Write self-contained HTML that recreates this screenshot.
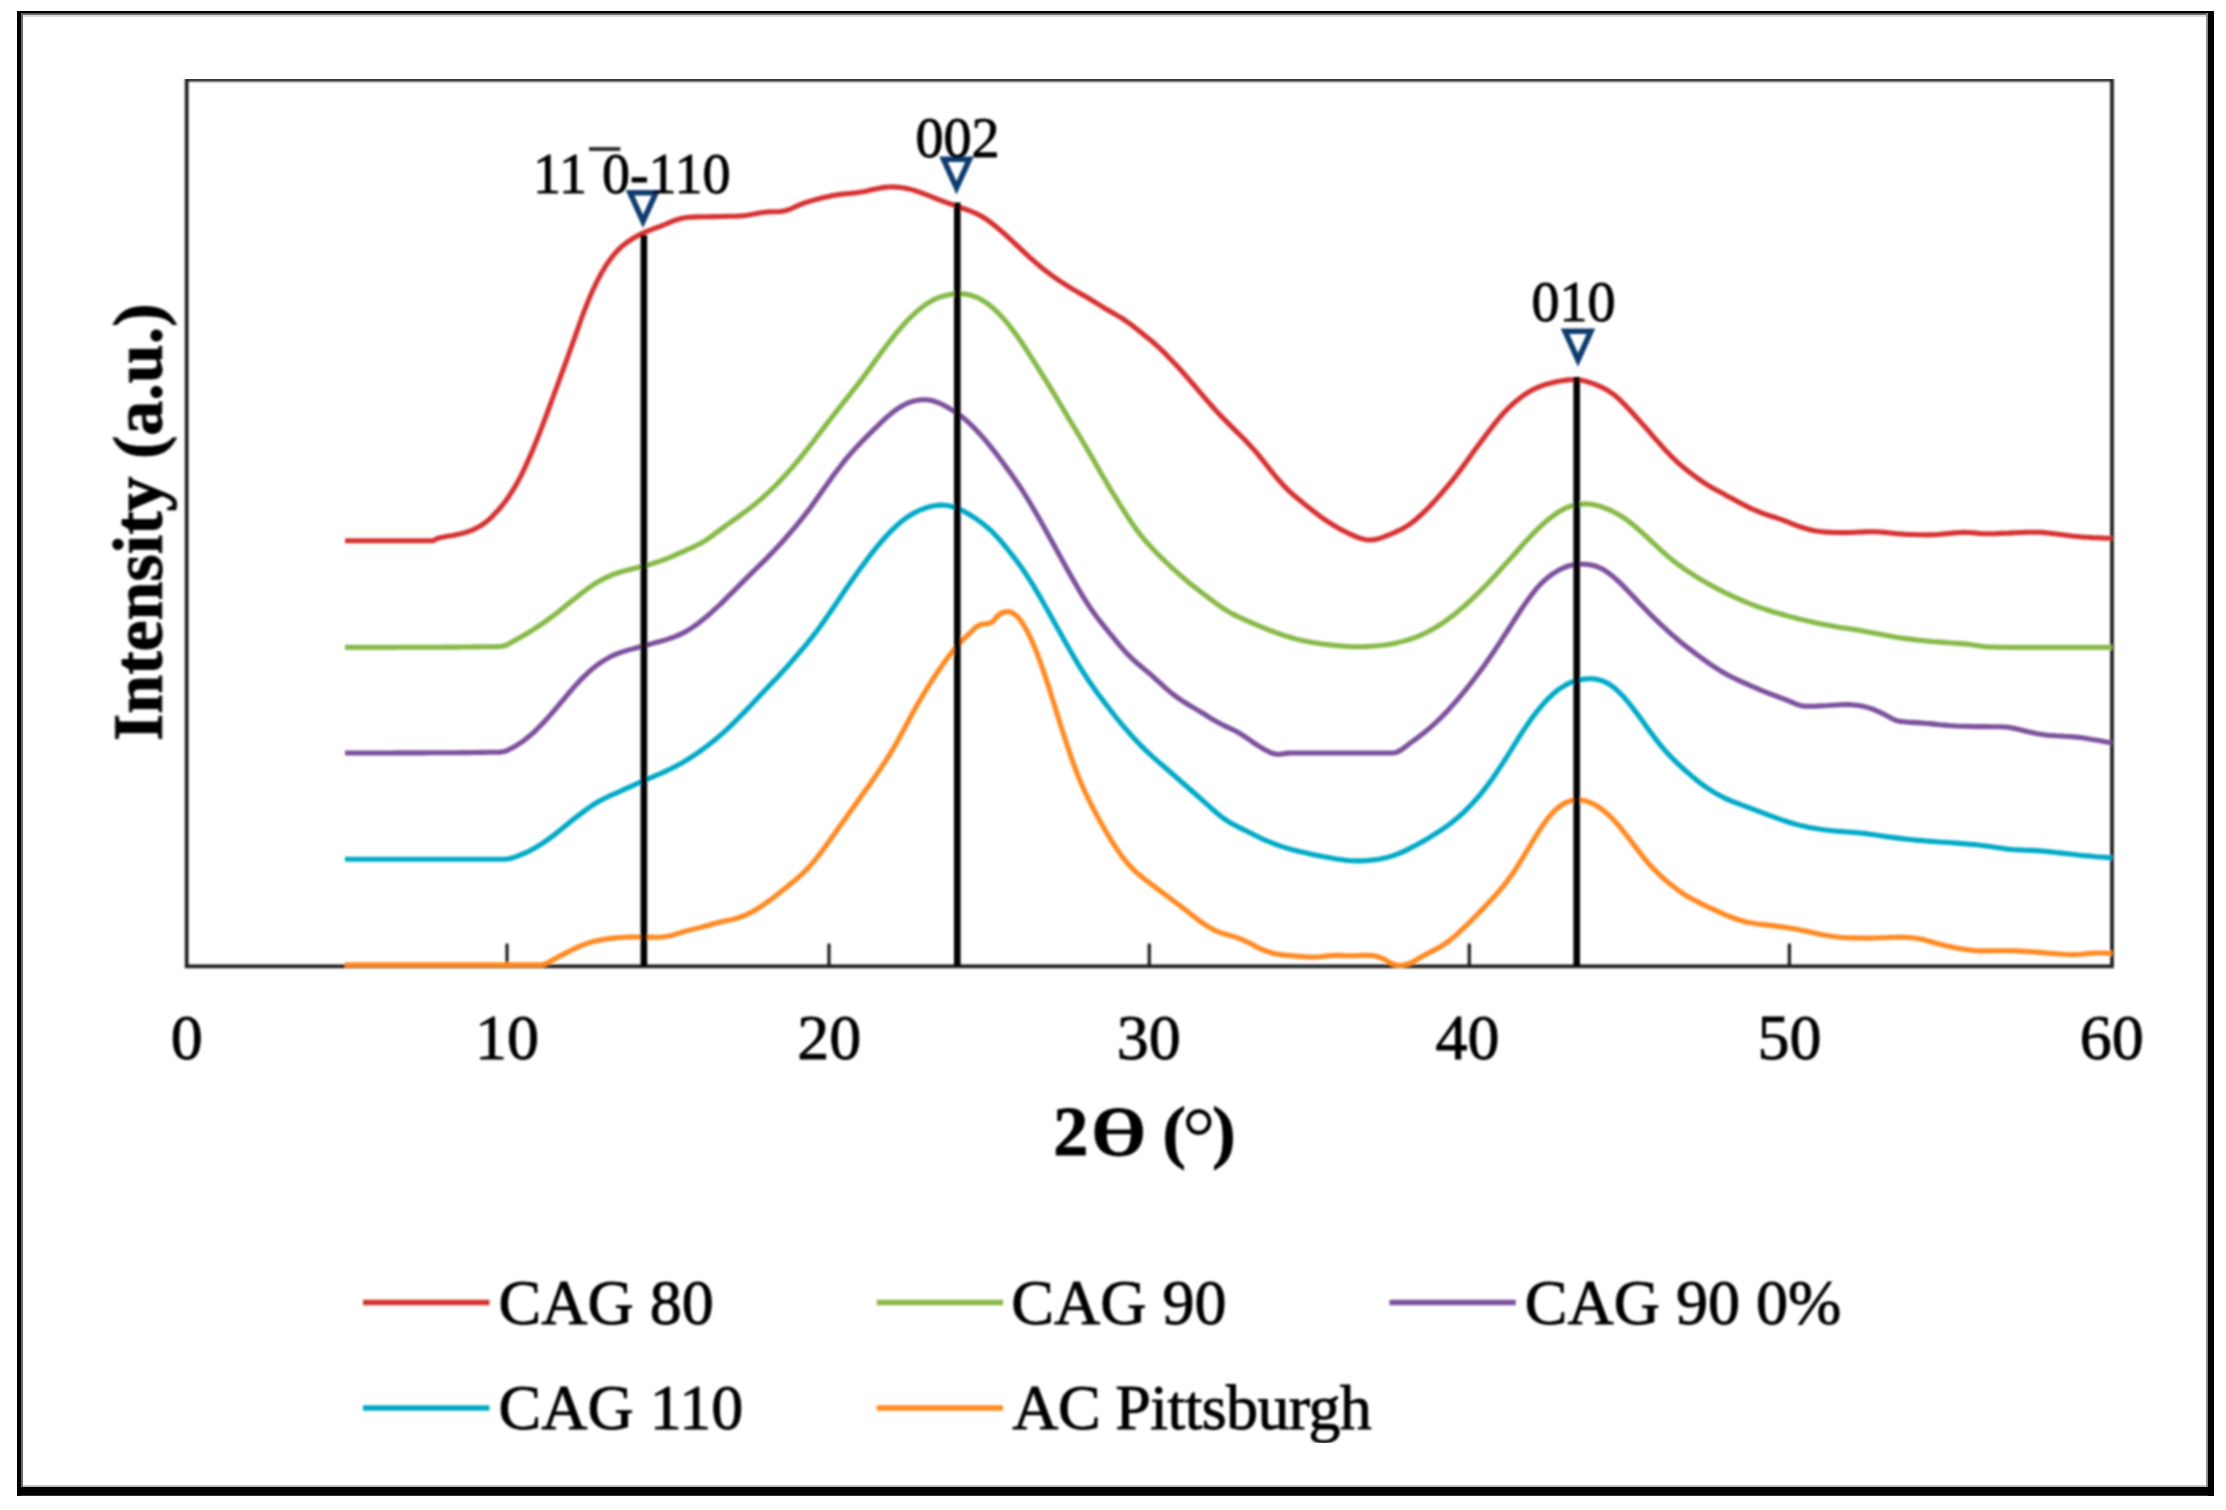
<!DOCTYPE html>
<html lang="en"><head><meta charset="utf-8"><title>XRD patterns</title>
<style>
html,body{margin:0;padding:0;background:#fff}
body{width:2226px;height:1510px;overflow:hidden}
svg{display:block}
text{font-family:"Liberation Serif","DejaVu Serif",serif;fill:#000}
.tk{font-size:64px;text-anchor:middle}
.pk{font-size:56px}
.lg{font-size:64px}
.ti{font-size:70px;font-weight:bold}
text{stroke:#000;stroke-width:0.9px}
</style></head><body>
<svg width="2226" height="1510" viewBox="0 0 2226 1510">
<rect width="2226" height="1510" fill="#fff"/>
<g id="frame">
<rect x="17" y="11" width="2197" height="2.3" fill="#000"/>
<rect x="21" y="13.3" width="2187" height="1.5" fill="#2c2c2c"/>
<rect x="23" y="14.8" width="2183" height="2.2" fill="#dcdcdc"/>
<rect x="17" y="1487" width="2197" height="8.8" fill="#000"/>
<rect x="23" y="1485.2" width="2183" height="1.8" fill="#b8b8b8"/>
<rect x="17" y="11" width="4" height="1484.8" fill="#000"/>
<rect x="21" y="13.3" width="2" height="1473.7" fill="#6b6b6b"/>
<rect x="2208" y="11" width="6" height="1484.8" fill="#000"/>
<rect x="2206.1" y="13.3" width="1.9" height="1473.7" fill="#8a8a8a"/>
</g>
<g id="all" filter="url(#soft)">

<g id="plot">
<rect x="186.7" y="79.7" width="1925.3" height="886.6" fill="none" stroke="#1c1c1c" stroke-width="3.7"/>
<line x1="507.0" y1="943.6" x2="507.0" y2="966" stroke="#1c1c1c" stroke-width="3.2"/>
<line x1="829.0" y1="943.6" x2="829.0" y2="966" stroke="#1c1c1c" stroke-width="3.2"/>
<line x1="1149.3" y1="943.6" x2="1149.3" y2="966" stroke="#1c1c1c" stroke-width="3.2"/>
<line x1="1469.3" y1="943.6" x2="1469.3" y2="966" stroke="#1c1c1c" stroke-width="3.2"/>
<line x1="1789.4" y1="943.6" x2="1789.4" y2="966" stroke="#1c1c1c" stroke-width="3.2"/>
<path d="M345.0 540.7L349.0 540.7L353.0 540.7L357.0 540.7L361.0 540.7L365.0 540.8L369.0 540.8L373.0 540.8L377.0 540.8L381.0 540.8L385.0 540.8L389.0 540.8L393.0 540.8L397.0 540.8L401.0 540.8L405.0 540.8L409.0 540.8L413.0 540.8L417.0 540.8L421.0 540.8L425.0 540.8L429.0 540.8L433.0 540.7L436.9 538.7L440.9 537.4L444.9 536.7L448.9 536.1L452.9 535.4L456.9 534.6L460.9 533.7L464.9 532.6L468.9 531.3L472.9 529.8L476.9 527.9L480.9 525.6L484.9 522.9L488.9 519.6L492.9 515.8L496.9 511.6L500.9 507.0L504.9 502.0L508.9 496.4L512.9 490.2L516.9 483.4L520.9 475.9L524.9 467.6L528.9 458.7L532.9 449.4L536.9 439.7L540.9 429.6L544.9 419.2L548.9 408.5L552.9 397.5L556.9 386.6L560.9 375.7L564.9 364.9L568.9 353.9L572.9 342.7L576.9 331.3L580.9 320.0L584.9 309.2L588.9 299.2L592.9 290.0L596.9 281.6L600.9 274.0L604.9 267.2L608.9 261.2L612.8 255.9L616.8 251.3L620.8 247.4L624.8 244.0L628.8 241.1L632.8 238.5L636.8 236.2L640.8 234.1L644.8 232.2L648.8 230.6L652.8 229.0L656.8 227.6L660.8 226.1L664.8 224.5L668.8 222.8L672.8 221.2L676.8 219.7L680.8 218.5L684.8 217.8L688.8 217.3L692.8 217.1L696.8 216.9L700.8 216.8L704.8 216.8L708.8 216.7L712.8 216.6L716.8 216.6L720.8 216.5L724.8 216.4L728.8 216.3L732.8 216.2L736.8 216.1L740.8 215.9L744.8 215.6L748.8 215.0L752.8 214.3L756.8 213.5L760.8 212.7L764.8 212.2L768.8 211.9L772.8 211.8L776.8 211.8L780.8 211.5L784.8 210.8L788.7 209.6L792.7 208.0L796.7 206.1L800.7 204.4L804.7 202.9L808.7 201.6L812.7 200.4L816.7 199.3L820.7 198.3L824.7 197.3L828.7 196.4L832.7 195.6L836.7 194.9L840.7 194.4L844.7 193.9L848.7 193.5L852.7 193.1L856.7 192.7L860.7 192.1L864.7 191.4L868.7 190.5L872.7 189.6L876.7 188.7L880.7 187.9L884.7 187.4L888.7 187.0L892.7 186.9L896.7 187.1L900.7 187.5L904.7 188.1L908.7 188.9L912.7 189.9L916.7 191.2L920.7 192.6L924.7 194.1L928.7 195.6L932.7 197.2L936.7 198.8L940.7 200.4L944.7 201.9L948.7 203.3L952.7 204.7L956.7 206.2L960.7 207.6L964.6 209.0L968.6 210.4L972.6 212.0L976.6 213.7L980.6 215.8L984.6 218.2L988.6 220.9L992.6 223.9L996.6 227.1L1000.6 230.5L1004.6 234.0L1008.6 237.6L1012.6 241.3L1016.6 245.1L1020.6 248.9L1024.6 252.6L1028.6 256.3L1032.6 259.9L1036.6 263.4L1040.6 266.7L1044.6 269.9L1048.6 273.0L1052.6 276.0L1056.6 278.8L1060.6 281.5L1064.6 284.2L1068.6 286.7L1072.6 289.1L1076.6 291.4L1080.6 293.7L1084.6 295.9L1088.6 298.3L1092.6 300.7L1096.6 303.2L1100.6 305.7L1104.6 308.2L1108.6 310.5L1112.6 312.8L1116.6 315.1L1120.6 317.4L1124.6 320.0L1128.6 322.8L1132.6 325.8L1136.6 328.9L1140.5 332.0L1144.5 335.2L1148.5 338.4L1152.5 341.8L1156.5 345.3L1160.5 349.0L1164.5 352.9L1168.5 357.0L1172.5 361.2L1176.5 365.4L1180.5 369.8L1184.5 374.2L1188.5 378.8L1192.5 383.5L1196.5 388.2L1200.5 392.9L1204.5 397.6L1208.5 402.2L1212.5 406.7L1216.5 411.1L1220.5 415.4L1224.5 419.5L1228.5 423.6L1232.5 427.6L1236.5 431.6L1240.5 435.5L1244.5 439.5L1248.5 443.7L1252.5 448.1L1256.5 452.7L1260.5 457.5L1264.5 462.5L1268.5 467.6L1272.5 472.6L1276.5 477.5L1280.5 482.1L1284.5 486.4L1288.5 490.4L1292.5 494.1L1296.5 497.5L1300.5 500.8L1304.5 504.1L1308.5 507.3L1312.5 510.4L1316.5 513.5L1320.4 516.5L1324.4 519.3L1328.4 522.0L1332.4 524.5L1336.4 526.9L1340.4 529.2L1344.4 531.3L1348.4 533.3L1352.4 535.1L1356.4 536.8L1360.4 538.3L1364.4 539.4L1368.4 540.0L1372.4 539.9L1376.4 539.2L1380.4 538.1L1384.4 536.7L1388.4 535.1L1392.4 533.5L1396.4 531.7L1400.4 529.8L1404.4 527.7L1408.4 525.2L1412.4 522.3L1416.4 519.0L1420.4 515.5L1424.4 511.7L1428.4 507.7L1432.4 503.5L1436.4 499.1L1440.4 494.6L1444.4 489.9L1448.4 485.2L1452.4 480.3L1456.4 475.2L1460.4 469.9L1464.4 464.4L1468.4 458.9L1472.4 453.3L1476.4 447.8L1480.4 442.4L1484.4 437.1L1488.4 431.8L1492.4 426.6L1496.3 421.6L1500.3 416.8L1504.3 412.3L1508.3 408.2L1512.3 404.4L1516.3 401.0L1520.3 397.8L1524.3 394.9L1528.3 392.2L1532.3 390.0L1536.3 388.0L1540.3 386.3L1544.3 384.9L1548.3 383.7L1552.3 382.7L1556.3 381.8L1560.3 381.0L1564.3 380.4L1568.3 379.9L1572.3 379.7L1576.3 379.7L1580.3 380.1L1584.3 380.9L1588.3 382.0L1592.3 383.4L1596.3 384.9L1600.3 386.6L1604.3 388.5L1608.3 390.8L1612.3 393.5L1616.3 396.6L1620.3 400.2L1624.3 404.2L1628.3 408.4L1632.3 412.7L1636.3 417.2L1640.3 421.6L1644.3 426.1L1648.3 430.7L1652.3 435.3L1656.3 439.9L1660.3 444.4L1664.3 448.9L1668.3 453.1L1672.2 457.2L1676.2 461.0L1680.2 464.6L1684.2 468.0L1688.2 471.2L1692.2 474.3L1696.2 477.3L1700.2 480.1L1704.2 482.8L1708.2 485.3L1712.2 487.7L1716.2 489.9L1720.2 492.1L1724.2 494.3L1728.2 496.4L1732.2 498.6L1736.2 500.8L1740.2 503.0L1744.2 505.1L1748.2 507.1L1752.2 509.0L1756.2 510.7L1760.2 512.4L1764.2 513.9L1768.2 515.2L1772.2 516.5L1776.2 517.8L1780.2 519.2L1784.2 520.7L1788.2 522.2L1792.2 523.8L1796.2 525.3L1800.2 526.8L1804.2 528.0L1808.2 529.2L1812.2 530.2L1816.2 531.0L1820.2 531.5L1824.2 531.9L1828.2 532.2L1832.2 532.4L1836.2 532.5L1840.2 532.6L1844.2 532.6L1848.1 532.6L1852.1 532.5L1856.1 532.3L1860.1 532.1L1864.1 531.9L1868.1 531.8L1872.1 531.7L1876.1 531.8L1880.1 532.0L1884.1 532.4L1888.1 532.8L1892.1 533.2L1896.1 533.6L1900.1 533.9L1904.1 534.2L1908.1 534.4L1912.1 534.5L1916.1 534.7L1920.1 534.8L1924.1 534.9L1928.1 534.9L1932.1 534.8L1936.1 534.6L1940.1 534.3L1944.1 533.9L1948.1 533.5L1952.1 533.1L1956.1 532.7L1960.1 532.5L1964.1 532.4L1968.1 532.5L1972.1 532.8L1976.1 533.1L1980.1 533.5L1984.1 533.7L1988.1 533.8L1992.1 533.7L1996.1 533.6L2000.1 533.4L2004.1 533.2L2008.1 533.1L2012.1 532.9L2016.1 532.7L2020.1 532.5L2024.0 532.4L2028.0 532.2L2032.0 532.2L2036.0 532.2L2040.0 532.3L2044.0 532.6L2048.0 533.0L2052.0 533.5L2056.0 534.0L2060.0 534.5L2064.0 535.0L2068.0 535.5L2072.0 536.0L2076.0 536.4L2080.0 536.8L2084.0 537.1L2088.0 537.3L2092.0 537.6L2096.0 537.8L2100.0 537.9L2104.0 538.1L2108.0 538.2L2112.0 538.2" fill="none" stroke="#d63232" stroke-width="5.1" stroke-linejoin="round" stroke-linecap="butt"/>
<path d="M345.0 647.4L349.0 647.4L353.0 647.4L357.0 647.4L361.0 647.4L365.0 647.4L369.0 647.4L373.0 647.4L377.0 647.4L381.0 647.4L385.0 647.4L389.0 647.4L393.0 647.4L397.0 647.3L401.0 647.3L405.0 647.3L409.0 647.3L413.0 647.3L417.0 647.3L421.0 647.3L425.0 647.3L429.0 647.2L433.0 647.2L436.9 647.2L440.9 647.2L444.9 647.1L448.9 647.1L452.9 647.1L456.9 647.1L460.9 647.0L464.9 647.0L468.9 647.0L472.9 646.9L476.9 646.9L480.9 646.8L484.9 646.8L488.9 646.7L492.9 646.7L496.9 646.6L500.9 646.5L504.9 645.6L508.9 643.8L512.9 641.5L516.9 639.2L520.9 637.0L524.9 634.7L528.9 632.3L532.9 629.8L536.9 627.2L540.9 624.6L544.9 621.8L548.9 618.9L552.9 616.0L556.9 612.9L560.9 609.8L564.9 606.6L568.9 603.3L572.9 600.1L576.9 596.9L580.9 593.7L584.9 590.7L588.9 587.8L592.9 585.0L596.9 582.5L600.9 580.2L604.9 578.1L608.9 576.3L612.8 574.7L616.8 573.2L620.8 571.9L624.8 570.8L628.8 569.7L632.8 568.7L636.8 567.8L640.8 566.8L644.8 565.8L648.8 564.7L652.8 563.5L656.8 562.2L660.8 560.8L664.8 559.3L668.8 557.8L672.8 556.1L676.8 554.4L680.8 552.6L684.8 550.8L688.8 549.0L692.8 547.2L696.8 545.2L700.8 543.2L704.8 540.9L708.8 538.3L712.8 535.4L716.8 532.4L720.8 529.4L724.8 526.4L728.8 523.5L732.8 520.6L736.8 517.8L740.8 514.9L744.8 512.0L748.8 509.0L752.8 505.9L756.8 502.6L760.8 499.3L764.8 495.7L768.8 492.0L772.8 488.2L776.8 484.2L780.8 480.1L784.8 475.8L788.7 471.4L792.7 466.8L796.7 462.1L800.7 457.3L804.7 452.4L808.7 447.3L812.7 442.2L816.7 437.0L820.7 431.8L824.7 426.6L828.7 421.4L832.7 416.2L836.7 411.1L840.7 406.0L844.7 400.9L848.7 395.9L852.7 390.8L856.7 385.7L860.7 380.6L864.7 375.3L868.7 369.8L872.7 364.3L876.7 358.8L880.7 353.3L884.7 347.9L888.7 342.7L892.7 337.6L896.7 332.7L900.7 328.0L904.7 323.5L908.7 319.3L912.7 315.3L916.7 311.6L920.7 308.2L924.7 305.2L928.7 302.6L932.7 300.3L936.7 298.4L940.7 296.9L944.7 295.7L948.7 294.7L952.7 294.1L956.7 293.8L960.7 293.8L964.6 294.1L968.6 294.7L972.6 295.8L976.6 297.3L980.6 299.2L984.6 301.6L988.6 304.4L992.6 307.7L996.6 311.3L1000.6 315.4L1004.6 319.9L1008.6 324.7L1012.6 329.9L1016.6 335.3L1020.6 341.0L1024.6 347.0L1028.6 353.1L1032.6 359.3L1036.6 365.6L1040.6 371.9L1044.6 378.4L1048.6 384.8L1052.6 391.4L1056.6 398.0L1060.6 404.7L1064.6 411.4L1068.6 418.2L1072.6 424.8L1076.6 431.4L1080.6 438.0L1084.6 444.7L1088.6 451.5L1092.6 458.4L1096.6 465.4L1100.6 472.4L1104.6 479.3L1108.6 486.1L1112.6 492.7L1116.6 499.2L1120.6 505.6L1124.6 511.9L1128.6 518.1L1132.6 524.1L1136.6 529.7L1140.5 534.9L1144.5 539.7L1148.5 544.2L1152.5 548.6L1156.5 552.7L1160.5 556.8L1164.5 560.7L1168.5 564.5L1172.5 568.3L1176.5 571.9L1180.5 575.4L1184.5 578.8L1188.5 582.2L1192.5 585.4L1196.5 588.6L1200.5 591.7L1204.5 594.8L1208.5 597.8L1212.5 600.8L1216.5 603.7L1220.5 606.5L1224.5 609.1L1228.5 611.6L1232.5 613.9L1236.5 615.9L1240.5 617.8L1244.5 619.7L1248.5 621.4L1252.5 623.1L1256.5 624.8L1260.5 626.5L1264.5 628.1L1268.5 629.8L1272.5 631.3L1276.5 632.8L1280.5 634.2L1284.5 635.6L1288.5 636.8L1292.5 638.0L1296.5 639.1L1300.5 640.1L1304.5 641.0L1308.5 641.8L1312.5 642.5L1316.5 643.1L1320.4 643.7L1324.4 644.2L1328.4 644.6L1332.4 645.1L1336.4 645.5L1340.4 645.9L1344.4 646.2L1348.4 646.5L1352.4 646.7L1356.4 646.7L1360.4 646.7L1364.4 646.6L1368.4 646.4L1372.4 646.2L1376.4 645.8L1380.4 645.5L1384.4 645.0L1388.4 644.4L1392.4 643.7L1396.4 642.9L1400.4 641.9L1404.4 640.9L1408.4 639.7L1412.4 638.4L1416.4 637.0L1420.4 635.3L1424.4 633.5L1428.4 631.5L1432.4 629.3L1436.4 627.0L1440.4 624.5L1444.4 621.8L1448.4 618.9L1452.4 615.9L1456.4 612.7L1460.4 609.4L1464.4 606.0L1468.4 602.4L1472.4 598.7L1476.4 594.8L1480.4 590.9L1484.4 586.9L1488.4 582.7L1492.4 578.5L1496.3 574.2L1500.3 569.8L1504.3 565.4L1508.3 560.9L1512.3 556.5L1516.3 552.0L1520.3 547.5L1524.3 543.0L1528.3 538.7L1532.3 534.4L1536.3 530.4L1540.3 526.5L1544.3 522.9L1548.3 519.5L1552.3 516.4L1556.3 513.5L1560.3 510.9L1564.3 508.7L1568.3 507.0L1572.3 505.7L1576.3 504.7L1580.3 504.2L1584.3 503.9L1588.3 504.0L1592.3 504.5L1596.3 505.3L1600.3 506.4L1604.3 507.8L1608.3 509.4L1612.3 511.2L1616.3 513.3L1620.3 515.6L1624.3 518.2L1628.3 521.0L1632.3 524.2L1636.3 527.5L1640.3 531.1L1644.3 534.7L1648.3 538.4L1652.3 542.2L1656.3 545.9L1660.3 549.6L1664.3 553.2L1668.3 556.6L1672.2 559.9L1676.2 563.0L1680.2 565.9L1684.2 568.8L1688.2 571.5L1692.2 574.1L1696.2 576.6L1700.2 579.1L1704.2 581.4L1708.2 583.7L1712.2 585.9L1716.2 588.1L1720.2 590.1L1724.2 592.2L1728.2 594.1L1732.2 596.0L1736.2 597.9L1740.2 599.7L1744.2 601.4L1748.2 603.0L1752.2 604.6L1756.2 606.1L1760.2 607.6L1764.2 608.9L1768.2 610.2L1772.2 611.5L1776.2 612.7L1780.2 613.8L1784.2 615.0L1788.2 616.1L1792.2 617.1L1796.2 618.2L1800.2 619.2L1804.2 620.1L1808.2 621.1L1812.2 622.0L1816.2 622.9L1820.2 623.7L1824.2 624.5L1828.2 625.3L1832.2 626.0L1836.2 626.7L1840.2 627.4L1844.2 628.0L1848.1 628.6L1852.1 629.2L1856.1 629.8L1860.1 630.5L1864.1 631.2L1868.1 631.9L1872.1 632.7L1876.1 633.5L1880.1 634.3L1884.1 635.1L1888.1 635.8L1892.1 636.5L1896.1 637.2L1900.1 637.8L1904.1 638.4L1908.1 638.9L1912.1 639.4L1916.1 639.9L1920.1 640.3L1924.1 640.7L1928.1 641.1L1932.1 641.5L1936.1 641.8L1940.1 642.1L1944.1 642.4L1948.1 642.7L1952.1 643.0L1956.1 643.3L1960.1 643.6L1964.1 643.9L1968.1 644.3L1972.1 644.8L1976.1 645.4L1980.1 646.1L1984.1 646.7L1988.1 646.9L1992.1 647.0L1996.1 647.1L2000.1 647.2L2004.1 647.3L2008.1 647.3L2012.1 647.4L2016.1 647.4L2020.1 647.4L2024.0 647.4L2028.0 647.4L2032.0 647.4L2036.0 647.4L2040.0 647.4L2044.0 647.4L2048.0 647.4L2052.0 647.4L2056.0 647.4L2060.0 647.4L2064.0 647.4L2068.0 647.4L2072.0 647.4L2076.0 647.4L2080.0 647.4L2084.0 647.4L2088.0 647.4L2092.0 647.4L2096.0 647.4L2100.0 647.4L2104.0 647.4L2108.0 647.4L2112.0 647.4" fill="none" stroke="#87b948" stroke-width="5.1" stroke-linejoin="round" stroke-linecap="butt"/>
<path d="M345.0 753.0L349.0 753.0L353.0 753.0L357.0 753.0L361.0 753.0L365.0 753.0L369.0 753.0L373.0 753.0L377.0 753.0L381.0 753.0L385.0 753.0L389.0 753.0L393.0 753.0L397.0 752.9L401.0 752.9L405.0 752.9L409.0 752.9L413.0 752.9L417.0 752.9L421.0 752.9L425.0 752.9L429.0 752.8L433.0 752.8L436.9 752.8L440.9 752.8L444.9 752.7L448.9 752.7L452.9 752.7L456.9 752.7L460.9 752.6L464.9 752.6L468.9 752.6L472.9 752.5L476.9 752.5L480.9 752.4L484.9 752.4L488.9 752.3L492.9 752.3L496.9 752.2L500.9 752.1L504.9 751.3L508.9 749.6L512.9 747.5L516.9 745.2L520.9 742.7L524.9 739.8L528.9 736.5L532.9 733.1L536.9 729.3L540.9 725.3L544.9 721.0L548.9 716.6L552.9 712.0L556.9 707.3L560.9 702.5L564.9 697.8L568.9 693.0L572.9 688.4L576.9 683.9L580.9 679.6L584.9 675.6L588.9 671.8L592.9 668.4L596.9 665.3L600.9 662.4L604.9 659.9L608.9 657.6L612.8 655.6L616.8 653.8L620.8 652.4L624.8 651.1L628.8 649.9L632.8 648.9L636.8 647.8L640.8 646.8L644.8 645.6L648.8 644.5L652.8 643.4L656.8 642.3L660.8 641.3L664.8 640.1L668.8 638.9L672.8 637.5L676.8 635.9L680.8 634.1L684.8 632.1L688.8 629.8L692.8 627.2L696.8 624.4L700.8 621.3L704.8 618.1L708.8 614.7L712.8 611.2L716.8 607.5L720.8 603.8L724.8 599.9L728.8 595.9L732.8 591.9L736.8 587.9L740.8 583.9L744.8 579.9L748.8 575.9L752.8 571.9L756.8 568.0L760.8 564.1L764.8 560.2L768.8 556.1L772.8 552.0L776.8 547.8L780.8 543.5L784.8 539.0L788.7 534.5L792.7 529.8L796.7 525.1L800.7 520.2L804.7 515.1L808.7 509.9L812.7 504.4L816.7 498.8L820.7 493.2L824.7 487.5L828.7 481.9L832.7 476.3L836.7 470.9L840.7 465.7L844.7 460.7L848.7 455.9L852.7 451.3L856.7 446.9L860.7 442.7L864.7 438.6L868.7 434.6L872.7 430.7L876.7 426.8L880.7 422.9L884.7 419.2L888.7 415.6L892.7 412.3L896.7 409.4L900.7 406.7L904.7 404.5L908.7 402.7L912.7 401.3L916.7 400.4L920.7 399.8L924.7 399.7L928.7 400.0L932.7 400.8L936.7 402.1L940.7 403.7L944.7 405.7L948.7 408.0L952.7 410.4L956.7 413.0L960.7 415.8L964.6 419.0L968.6 422.5L972.6 426.3L976.6 430.5L980.6 434.8L984.6 439.4L988.6 444.2L992.6 449.2L996.6 454.3L1000.6 459.5L1004.6 464.9L1008.6 470.4L1012.6 476.0L1016.6 481.8L1020.6 487.7L1024.6 494.0L1028.6 500.5L1032.6 507.2L1036.6 514.1L1040.6 521.1L1044.6 528.3L1048.6 535.5L1052.6 542.8L1056.6 550.1L1060.6 557.3L1064.6 564.5L1068.6 571.7L1072.6 578.8L1076.6 585.8L1080.6 592.6L1084.6 599.1L1088.6 605.4L1092.6 611.2L1096.6 616.7L1100.6 621.9L1104.6 626.9L1108.6 631.8L1112.6 636.7L1116.6 641.6L1120.6 646.4L1124.6 650.9L1128.6 655.2L1132.6 659.1L1136.6 662.7L1140.5 666.0L1144.5 669.4L1148.5 672.7L1152.5 676.2L1156.5 679.8L1160.5 683.4L1164.5 687.1L1168.5 690.6L1172.5 693.9L1176.5 696.9L1180.5 699.7L1184.5 702.3L1188.5 704.7L1192.5 707.1L1196.5 709.4L1200.5 711.9L1204.5 714.3L1208.5 716.8L1212.5 719.3L1216.5 721.6L1220.5 723.8L1224.5 725.8L1228.5 727.6L1232.5 729.5L1236.5 731.5L1240.5 733.8L1244.5 736.4L1248.5 739.2L1252.5 742.0L1256.5 744.6L1260.5 747.1L1264.5 749.5L1268.5 751.6L1272.5 753.3L1276.5 754.2L1280.5 754.2L1284.5 753.6L1288.5 753.1L1292.5 753.0L1296.5 753.0L1300.5 753.0L1304.5 753.0L1308.5 753.0L1312.5 753.0L1316.5 753.0L1320.4 753.0L1324.4 753.0L1328.4 753.0L1332.4 753.0L1336.4 753.0L1340.4 753.0L1344.4 753.0L1348.4 753.0L1352.4 753.0L1356.4 753.0L1360.4 753.0L1364.4 753.0L1368.4 753.0L1372.4 753.0L1376.4 753.0L1380.4 753.0L1384.4 753.0L1388.4 753.0L1392.4 753.0L1396.4 752.4L1400.4 750.4L1404.4 747.6L1408.4 744.4L1412.4 741.5L1416.4 738.7L1420.4 735.6L1424.4 732.5L1428.4 729.1L1432.4 725.7L1436.4 722.0L1440.4 718.2L1444.4 714.1L1448.4 709.9L1452.4 705.4L1456.4 700.8L1460.4 696.1L1464.4 691.3L1468.4 686.3L1472.4 681.2L1476.4 676.0L1480.4 670.7L1484.4 665.2L1488.4 659.6L1492.4 653.8L1496.3 647.9L1500.3 641.9L1504.3 635.7L1508.3 629.5L1512.3 623.2L1516.3 617.0L1520.3 610.8L1524.3 604.9L1528.3 599.2L1532.3 593.8L1536.3 588.9L1540.3 584.4L1544.3 580.5L1548.3 577.1L1552.3 574.1L1556.3 571.6L1560.3 569.3L1564.3 567.5L1568.3 566.0L1572.3 565.0L1576.3 564.4L1580.3 564.1L1584.3 564.2L1588.3 564.5L1592.3 565.2L1596.3 566.3L1600.3 568.0L1604.3 570.1L1608.3 572.8L1612.3 575.9L1616.3 579.4L1620.3 583.1L1624.3 587.1L1628.3 591.2L1632.3 595.4L1636.3 599.7L1640.3 603.9L1644.3 608.1L1648.3 612.2L1652.3 616.2L1656.3 620.2L1660.3 624.0L1664.3 627.7L1668.3 631.4L1672.2 634.9L1676.2 638.3L1680.2 641.7L1684.2 644.9L1688.2 648.0L1692.2 651.1L1696.2 654.1L1700.2 657.0L1704.2 659.9L1708.2 662.8L1712.2 665.5L1716.2 668.2L1720.2 670.7L1724.2 673.0L1728.2 675.2L1732.2 677.2L1736.2 679.2L1740.2 681.1L1744.2 682.9L1748.2 684.7L1752.2 686.5L1756.2 688.2L1760.2 689.9L1764.2 691.5L1768.2 693.1L1772.2 694.6L1776.2 696.1L1780.2 697.6L1784.2 699.1L1788.2 700.7L1792.2 702.4L1796.2 704.1L1800.2 705.4L1804.2 706.2L1808.2 706.3L1812.2 706.2L1816.2 706.1L1820.2 705.9L1824.2 705.7L1828.2 705.5L1832.2 705.2L1836.2 705.0L1840.2 704.8L1844.2 704.6L1848.1 704.6L1852.1 704.8L1856.1 705.2L1860.1 705.8L1864.1 706.6L1868.1 707.6L1872.1 708.9L1876.1 710.6L1880.1 712.4L1884.1 714.3L1888.1 716.4L1892.1 718.7L1896.1 720.5L1900.1 721.4L1904.1 721.8L1908.1 722.2L1912.1 722.4L1916.1 722.6L1920.1 722.9L1924.1 723.2L1928.1 723.5L1932.1 723.9L1936.1 724.4L1940.1 724.8L1944.1 725.1L1948.1 725.5L1952.1 725.7L1956.1 726.0L1960.1 726.2L1964.1 726.3L1968.1 726.4L1972.1 726.5L1976.1 726.6L1980.1 726.6L1984.1 726.6L1988.1 726.6L1992.1 726.7L1996.1 726.7L2000.1 726.8L2004.1 727.0L2008.1 727.3L2012.1 727.9L2016.1 728.8L2020.1 729.8L2024.0 730.8L2028.0 731.8L2032.0 732.6L2036.0 733.4L2040.0 734.1L2044.0 734.7L2048.0 735.2L2052.0 735.5L2056.0 735.8L2060.0 736.0L2064.0 736.3L2068.0 736.5L2072.0 736.8L2076.0 737.1L2080.0 737.5L2084.0 738.1L2088.0 738.7L2092.0 739.4L2096.0 740.0L2100.0 740.7L2104.0 741.5L2108.0 742.2L2112.0 743.0" fill="none" stroke="#7c519c" stroke-width="5.1" stroke-linejoin="round" stroke-linecap="butt"/>
<path d="M345.0 859.2L349.0 859.2L353.0 859.2L357.0 859.2L361.0 859.2L365.0 859.2L369.0 859.2L373.0 859.2L377.0 859.2L381.0 859.2L385.0 859.2L389.0 859.2L393.0 859.2L397.0 859.2L401.0 859.2L405.0 859.2L409.0 859.2L413.0 859.2L417.0 859.2L421.0 859.2L425.0 859.2L429.0 859.2L433.0 859.2L436.9 859.2L440.9 859.2L444.9 859.2L448.9 859.2L452.9 859.2L456.9 859.2L460.9 859.2L464.9 859.2L468.9 859.2L472.9 859.2L476.9 859.2L480.9 859.2L484.9 859.2L488.9 859.2L492.9 859.2L496.9 859.2L500.9 859.2L504.9 859.2L508.9 858.8L512.9 857.7L516.9 856.3L520.9 854.7L524.9 853.1L528.9 851.2L532.9 849.1L536.9 846.8L540.9 844.4L544.9 841.7L548.9 838.9L552.9 835.9L556.9 832.7L560.9 829.6L564.9 826.3L568.9 823.1L572.9 819.8L576.9 816.6L580.9 813.6L584.9 810.6L588.9 807.7L592.9 805.0L596.9 802.5L600.9 800.3L604.9 798.2L608.9 796.3L612.8 794.5L616.8 792.8L620.8 791.0L624.8 789.2L628.8 787.4L632.8 785.6L636.8 783.7L640.8 782.0L644.8 780.2L648.8 778.5L652.8 776.9L656.8 775.2L660.8 773.5L664.8 771.7L668.8 769.8L672.8 767.8L676.8 765.8L680.8 763.6L684.8 761.2L688.8 758.8L692.8 756.2L696.8 753.5L700.8 750.6L704.8 747.7L708.8 744.7L712.8 741.6L716.8 738.3L720.8 734.9L724.8 731.4L728.8 727.6L732.8 723.8L736.8 719.8L740.8 715.7L744.8 711.6L748.8 707.4L752.8 703.2L756.8 698.9L760.8 694.7L764.8 690.5L768.8 686.3L772.8 682.1L776.8 677.9L780.8 673.6L784.8 669.3L788.7 664.8L792.7 660.3L796.7 655.7L800.7 651.0L804.7 646.3L808.7 641.4L812.7 636.4L816.7 631.2L820.7 625.8L824.7 620.1L828.7 614.4L832.7 608.5L836.7 602.6L840.7 596.6L844.7 590.7L848.7 584.9L852.7 579.2L856.7 573.6L860.7 568.1L864.7 562.7L868.7 557.3L872.7 552.1L876.7 547.1L880.7 542.3L884.7 537.8L888.7 533.5L892.7 529.4L896.7 525.6L900.7 522.1L904.7 519.0L908.7 516.2L912.7 513.8L916.7 511.7L920.7 509.8L924.7 508.3L928.7 507.0L932.7 506.0L936.7 505.4L940.7 505.1L944.7 505.2L948.7 505.7L952.7 506.7L956.7 508.0L960.7 509.7L964.6 511.8L968.6 514.0L972.6 516.5L976.6 519.2L980.6 522.0L984.6 525.1L988.6 528.5L992.6 532.2L996.6 536.4L1000.6 540.8L1004.6 545.6L1008.6 550.5L1012.6 555.6L1016.6 560.8L1020.6 566.3L1024.6 572.0L1028.6 578.1L1032.6 584.4L1036.6 591.1L1040.6 597.9L1044.6 604.9L1048.6 612.0L1052.6 619.2L1056.6 626.4L1060.6 633.6L1064.6 640.8L1068.6 647.8L1072.6 654.8L1076.6 661.6L1080.6 668.1L1084.6 674.4L1088.6 680.5L1092.6 686.3L1096.6 691.9L1100.6 697.3L1104.6 702.6L1108.6 707.8L1112.6 712.9L1116.6 718.0L1120.6 722.9L1124.6 727.6L1128.6 732.2L1132.6 736.7L1136.6 741.0L1140.5 745.1L1144.5 749.1L1148.5 752.9L1152.5 756.6L1156.5 760.1L1160.5 763.6L1164.5 767.0L1168.5 770.5L1172.5 774.0L1176.5 777.5L1180.5 781.0L1184.5 784.5L1188.5 788.0L1192.5 791.5L1196.5 795.0L1200.5 798.5L1204.5 802.1L1208.5 805.7L1212.5 809.3L1216.5 812.7L1220.5 816.0L1224.5 819.0L1228.5 821.6L1232.5 824.0L1236.5 826.1L1240.5 828.1L1244.5 830.0L1248.5 832.0L1252.5 834.0L1256.5 836.0L1260.5 838.0L1264.5 839.8L1268.5 841.5L1272.5 843.2L1276.5 844.7L1280.5 846.1L1284.5 847.4L1288.5 848.6L1292.5 849.7L1296.5 850.7L1300.5 851.7L1304.5 852.6L1308.5 853.5L1312.5 854.4L1316.5 855.2L1320.4 856.0L1324.4 856.8L1328.4 857.5L1332.4 858.2L1336.4 858.9L1340.4 859.5L1344.4 860.1L1348.4 860.5L1352.4 860.8L1356.4 860.9L1360.4 860.9L1364.4 860.7L1368.4 860.4L1372.4 860.0L1376.4 859.6L1380.4 858.9L1384.4 858.1L1388.4 857.1L1392.4 855.9L1396.4 854.5L1400.4 852.9L1404.4 851.1L1408.4 849.1L1412.4 847.0L1416.4 844.9L1420.4 842.7L1424.4 840.5L1428.4 838.2L1432.4 835.7L1436.4 833.2L1440.4 830.6L1444.4 827.9L1448.4 825.0L1452.4 821.9L1456.4 818.7L1460.4 815.3L1464.4 811.6L1468.4 807.6L1472.4 803.4L1476.4 799.0L1480.4 794.3L1484.4 789.3L1488.4 784.1L1492.4 778.7L1496.3 772.9L1500.3 766.9L1504.3 760.8L1508.3 754.5L1512.3 748.0L1516.3 741.6L1520.3 735.2L1524.3 729.1L1528.3 723.2L1532.3 717.6L1536.3 712.3L1540.3 707.4L1544.3 702.8L1548.3 698.6L1552.3 694.7L1556.3 691.3L1560.3 688.3L1564.3 685.8L1568.3 683.6L1572.3 681.9L1576.3 680.6L1580.3 679.7L1584.3 679.1L1588.3 678.8L1592.3 678.8L1596.3 679.3L1600.3 680.2L1604.3 681.6L1608.3 683.6L1612.3 686.3L1616.3 689.5L1620.3 693.4L1624.3 697.6L1628.3 702.3L1632.3 707.4L1636.3 712.6L1640.3 718.1L1644.3 723.6L1648.3 729.2L1652.3 734.6L1656.3 739.9L1660.3 744.9L1664.3 749.6L1668.3 754.1L1672.2 758.2L1676.2 762.1L1680.2 765.9L1684.2 769.5L1688.2 773.0L1692.2 776.4L1696.2 779.8L1700.2 782.9L1704.2 785.9L1708.2 788.7L1712.2 791.2L1716.2 793.6L1720.2 795.8L1724.2 797.8L1728.2 799.6L1732.2 801.3L1736.2 802.9L1740.2 804.4L1744.2 805.8L1748.2 807.3L1752.2 808.8L1756.2 810.3L1760.2 811.8L1764.2 813.3L1768.2 814.8L1772.2 816.3L1776.2 817.9L1780.2 819.3L1784.2 820.7L1788.2 822.0L1792.2 823.2L1796.2 824.4L1800.2 825.4L1804.2 826.3L1808.2 827.2L1812.2 828.0L1816.2 828.6L1820.2 829.2L1824.2 829.8L1828.2 830.3L1832.2 830.7L1836.2 831.1L1840.2 831.4L1844.2 831.7L1848.1 832.0L1852.1 832.3L1856.1 832.6L1860.1 833.0L1864.1 833.4L1868.1 833.9L1872.1 834.5L1876.1 835.1L1880.1 835.7L1884.1 836.3L1888.1 836.9L1892.1 837.4L1896.1 837.9L1900.1 838.4L1904.1 838.9L1908.1 839.3L1912.1 839.7L1916.1 840.1L1920.1 840.4L1924.1 840.8L1928.1 841.1L1932.1 841.4L1936.1 841.7L1940.1 842.0L1944.1 842.2L1948.1 842.5L1952.1 842.8L1956.1 843.1L1960.1 843.4L1964.1 843.7L1968.1 844.1L1972.1 844.4L1976.1 844.8L1980.1 845.3L1984.1 845.7L1988.1 846.2L1992.1 846.8L1996.1 847.4L2000.1 848.0L2004.1 848.6L2008.1 849.1L2012.1 849.5L2016.1 849.7L2020.1 849.9L2024.0 850.1L2028.0 850.2L2032.0 850.4L2036.0 850.6L2040.0 850.9L2044.0 851.2L2048.0 851.6L2052.0 852.0L2056.0 852.5L2060.0 852.9L2064.0 853.4L2068.0 853.8L2072.0 854.3L2076.0 854.7L2080.0 855.2L2084.0 855.6L2088.0 855.9L2092.0 856.3L2096.0 856.7L2100.0 857.0L2104.0 857.3L2108.0 857.6L2112.0 857.9" fill="none" stroke="#02a9c7" stroke-width="5.1" stroke-linejoin="round" stroke-linecap="butt"/>
<path d="M344.8 964.9L348.8 964.9L352.8 964.9L356.8 964.9L360.8 964.9L364.8 964.9L368.8 964.9L372.8 964.9L376.8 964.9L380.8 964.9L384.8 964.9L388.8 964.9L392.8 964.9L396.8 964.9L400.8 964.9L404.8 964.9L408.8 964.9L412.8 964.9L416.8 964.9L420.8 964.9L424.8 964.9L428.8 964.9L432.8 964.9L436.8 964.9L440.8 964.9L444.8 964.9L448.8 964.9L452.8 964.9L456.7 964.9L460.7 964.9L464.7 964.9L468.7 964.9L472.7 964.9L476.7 964.9L480.7 964.9L484.7 964.9L488.7 964.9L492.7 964.9L496.7 964.9L500.7 964.9L504.7 964.9L508.7 964.9L512.7 964.9L516.7 964.9L520.7 964.9L524.7 964.9L528.7 964.9L532.7 964.9L536.7 964.9L540.7 964.9L544.7 964.0L548.7 962.3L552.7 960.1L556.7 957.8L560.7 955.6L564.7 953.6L568.7 951.5L572.7 949.5L576.7 947.6L580.7 945.8L584.7 944.3L588.7 942.9L592.7 941.7L596.7 940.7L600.7 939.9L604.7 939.2L608.7 938.6L612.7 938.1L616.7 937.7L620.7 937.5L624.7 937.3L628.7 937.1L632.7 937.0L636.7 937.0L640.7 937.0L644.7 937.0L648.7 937.1L652.7 937.1L656.7 937.2L660.7 937.1L664.7 936.8L668.7 936.1L672.7 935.1L676.6 933.9L680.6 932.6L684.6 931.4L688.6 930.4L692.6 929.4L696.6 928.4L700.6 927.4L704.6 926.3L708.6 925.2L712.6 924.0L716.6 923.0L720.6 922.0L724.6 921.1L728.6 920.3L732.6 919.4L736.6 918.3L740.6 917.0L744.6 915.5L748.6 913.7L752.6 911.6L756.6 909.2L760.6 906.7L764.6 904.0L768.6 901.1L772.6 898.2L776.6 895.1L780.6 891.9L784.6 888.8L788.6 885.5L792.6 882.3L796.6 878.9L800.6 875.3L804.6 871.5L808.6 867.4L812.6 862.9L816.6 858.0L820.6 852.9L824.6 847.5L828.6 842.0L832.6 836.3L836.6 830.7L840.6 825.1L844.6 819.5L848.6 813.9L852.6 808.3L856.6 802.7L860.6 797.1L864.6 791.5L868.6 785.9L872.6 780.2L876.6 774.4L880.6 768.5L884.6 762.4L888.6 756.1L892.6 749.6L896.6 742.7L900.5 735.6L904.5 728.2L908.5 720.7L912.5 713.3L916.5 706.1L920.5 699.2L924.5 692.5L928.5 686.0L932.5 679.7L936.5 673.6L940.5 667.7L944.5 662.1L948.5 656.6L952.5 651.5L956.5 646.6L960.5 642.2L964.5 638.1L968.5 634.4L972.5 630.5L976.5 626.7L980.5 624.5L984.5 623.9L988.5 623.5L992.5 622.1L996.5 617.0L1000.5 613.5L1004.5 612.0L1008.5 611.4L1012.5 612.9L1016.5 615.8L1020.5 620.2L1024.5 626.4L1028.5 633.7L1032.5 642.3L1036.5 652.0L1040.5 662.6L1044.5 674.2L1048.5 686.4L1052.5 699.1L1056.5 711.9L1060.5 724.7L1064.5 737.2L1068.5 749.4L1072.5 761.0L1076.5 771.8L1080.5 781.7L1084.5 790.8L1088.5 799.2L1092.5 807.1L1096.5 814.7L1100.5 822.0L1104.5 829.0L1108.5 835.8L1112.5 842.3L1116.5 848.4L1120.4 854.2L1124.4 859.5L1128.4 864.3L1132.4 868.6L1136.4 872.4L1140.4 875.8L1144.4 879.0L1148.4 882.0L1152.4 885.1L1156.4 888.1L1160.4 891.1L1164.4 894.0L1168.4 897.0L1172.4 900.0L1176.4 903.0L1180.4 906.0L1184.4 909.1L1188.4 912.2L1192.4 915.3L1196.4 918.4L1200.4 921.4L1204.4 924.2L1208.4 926.8L1212.4 929.1L1216.4 931.0L1220.4 932.6L1224.4 933.9L1228.4 935.0L1232.4 936.1L1236.4 937.4L1240.4 938.9L1244.4 940.6L1248.4 942.5L1252.4 944.6L1256.4 946.7L1260.4 948.7L1264.4 950.4L1268.4 951.8L1272.4 953.0L1276.4 953.9L1280.4 954.6L1284.4 955.1L1288.4 955.4L1292.4 955.8L1296.4 956.1L1300.4 956.4L1304.4 956.7L1308.4 956.9L1312.4 957.0L1316.4 957.0L1320.4 956.7L1324.4 956.3L1328.4 955.9L1332.4 955.5L1336.4 955.4L1340.3 955.4L1344.3 955.6L1348.3 955.7L1352.3 955.8L1356.3 955.7L1360.3 955.5L1364.3 955.4L1368.3 955.3L1372.3 955.5L1376.3 956.3L1380.3 957.5L1384.3 959.1L1388.3 961.7L1392.3 963.7L1396.3 965.0L1400.3 965.4L1404.3 964.8L1408.3 963.8L1412.3 962.2L1416.3 959.9L1420.3 957.5L1424.3 955.2L1428.3 953.1L1432.3 951.1L1436.3 949.0L1440.3 946.8L1444.3 944.3L1448.3 941.4L1452.3 938.3L1456.3 934.8L1460.3 931.2L1464.3 927.4L1468.3 923.5L1472.3 919.5L1476.3 915.5L1480.3 911.4L1484.3 907.2L1488.3 903.0L1492.3 898.8L1496.3 894.3L1500.3 889.7L1504.3 884.8L1508.3 879.6L1512.3 874.0L1516.3 868.1L1520.3 861.7L1524.3 855.2L1528.3 848.5L1532.3 841.8L1536.3 835.3L1540.3 829.0L1544.3 823.1L1548.3 817.8L1552.3 813.1L1556.3 809.2L1560.2 806.0L1564.2 803.4L1568.2 801.6L1572.2 800.4L1576.2 799.9L1580.2 799.9L1584.2 800.6L1588.2 801.8L1592.2 803.4L1596.2 805.5L1600.2 808.1L1604.2 811.1L1608.2 814.5L1612.2 818.4L1616.2 822.7L1620.2 827.3L1624.2 832.3L1628.2 837.4L1632.2 842.6L1636.2 847.9L1640.2 853.1L1644.2 858.2L1648.2 863.0L1652.2 867.4L1656.2 871.5L1660.2 875.4L1664.2 879.0L1668.2 882.4L1672.2 885.6L1676.2 888.7L1680.2 891.6L1684.2 894.3L1688.2 896.8L1692.2 899.0L1696.2 901.1L1700.2 903.1L1704.2 905.1L1708.2 907.0L1712.2 908.9L1716.2 910.7L1720.2 912.5L1724.2 914.3L1728.2 916.0L1732.2 917.5L1736.2 919.0L1740.2 920.3L1744.2 921.5L1748.2 922.4L1752.2 923.1L1756.2 923.7L1760.2 924.2L1764.2 924.6L1768.2 925.1L1772.2 925.6L1776.2 926.1L1780.2 926.6L1784.1 927.1L1788.1 927.7L1792.1 928.4L1796.1 929.1L1800.1 929.9L1804.1 930.7L1808.1 931.6L1812.1 932.5L1816.1 933.4L1820.1 934.3L1824.1 935.0L1828.1 935.7L1832.1 936.3L1836.1 936.8L1840.1 937.2L1844.1 937.5L1848.1 937.7L1852.1 937.9L1856.1 937.9L1860.1 938.0L1864.1 938.0L1868.1 938.1L1872.1 938.0L1876.1 938.0L1880.1 937.8L1884.1 937.7L1888.1 937.5L1892.1 937.3L1896.1 937.2L1900.1 937.1L1904.1 937.2L1908.1 937.5L1912.1 937.8L1916.1 938.3L1920.1 939.0L1924.1 939.8L1928.1 940.9L1932.1 942.0L1936.1 943.2L1940.1 944.3L1944.1 945.3L1948.1 946.2L1952.1 947.1L1956.1 947.9L1960.1 948.6L1964.1 949.3L1968.1 949.8L1972.1 950.3L1976.1 950.7L1980.1 950.9L1984.1 950.9L1988.1 950.9L1992.1 950.8L1996.1 950.8L2000.1 950.7L2004.0 950.7L2008.0 950.7L2012.0 950.8L2016.0 950.9L2020.0 951.1L2024.0 951.3L2028.0 951.5L2032.0 951.8L2036.0 952.1L2040.0 952.4L2044.0 952.7L2048.0 953.1L2052.0 953.4L2056.0 953.7L2060.0 954.0L2064.0 954.3L2068.0 954.5L2072.0 954.6L2076.0 954.5L2080.0 954.3L2084.0 954.0L2088.0 953.5L2092.0 953.1L2096.0 953.0L2100.0 953.0L2104.0 953.0L2108.0 953.3L2112.0 953.6" fill="none" stroke="#ff8920" stroke-width="5.1" stroke-linejoin="round" stroke-linecap="butt"/>
<line x1="643.9" y1="235.0" x2="643.9" y2="966" stroke="#000" stroke-width="6.6"/>
<line x1="957.3" y1="202.4" x2="957.3" y2="966" stroke="#000" stroke-width="6.6"/>
<line x1="1576.7" y1="377.0" x2="1576.7" y2="966" stroke="#000" stroke-width="6.6"/>
<path d="M630.0 192.7 L656.0 192.7 L643.0 221.3 Z" fill="none" stroke="#113d6e" stroke-width="5.6" stroke-linejoin="miter"/>
<path d="M943.5 159.2 L969.5 159.2 L956.5 187.8 Z" fill="none" stroke="#113d6e" stroke-width="5.6" stroke-linejoin="miter"/>
<path d="M1565.0 331.2 L1591.0 331.2 L1578.0 359.9 Z" fill="none" stroke="#113d6e" stroke-width="5.6" stroke-linejoin="miter"/>
<rect x="589" y="147" width="31.3" height="4" fill="#333"/>
</g>
<g id="labels">
<text class="pk" x="533" y="193.1">11 <tspan x="601.9">0-110</tspan></text>
<text class="pk" x="915.4" y="156.8">002</text>
<text class="pk" x="1531.5" y="320.5">010</text>
<text class="tk" x="186.8" y="1059">0</text>
<text class="tk" x="506.9" y="1059">10</text>
<text class="tk" x="829.3" y="1059">20</text>
<text class="tk" x="1148.7" y="1059">30</text>
<text class="tk" x="1467.4" y="1059">40</text>
<text class="tk" x="1789.6" y="1059">50</text>
<text class="tk" x="2111.8" y="1059">60</text>
<text class="ti" y="1155"><tspan x="1053.3">2</tspan><tspan x="1091.5">ϴ</tspan><tspan x="1162.6">(</tspan><tspan x="1182" y="1166.3" style="font-weight:normal;font-size:84px;stroke-width:0">°</tspan><tspan x="1212.2" y="1155">)</tspan></text>
<text class="ti" transform="translate(161.6 741) rotate(-90)">Intensity (a.u.)</text>
</g>
<g id="legend">
<line x1="363.0" y1="1302.5" x2="489.5" y2="1302.5" stroke="#d63232" stroke-width="5.3"/>
<text class="lg" x="498.5" y="1324.0">CAG 80</text>
<line x1="876.7" y1="1302.5" x2="1003.0" y2="1302.5" stroke="#87b948" stroke-width="5.3"/>
<text class="lg" x="1011.3" y="1324.0">CAG 90</text>
<line x1="1389.5" y1="1302.5" x2="1515.8" y2="1302.5" stroke="#7c519c" stroke-width="5.3"/>
<text class="lg" x="1524.8" y="1324.0">CAG 90 0%</text>
<line x1="363.0" y1="1408.0" x2="489.5" y2="1408.0" stroke="#02a9c7" stroke-width="5.3"/>
<text class="lg" x="498.5" y="1429.0">CAG 110</text>
<line x1="876.7" y1="1408.0" x2="1003.0" y2="1408.0" stroke="#ff8920" stroke-width="5.3"/>
<text class="lg" x="1012.3" y="1429.0" style="letter-spacing:-0.62px">AC Pittsburgh</text>
</g>
</g>
<defs><filter id="soft" x="0" y="0" width="100%" height="100%"><feGaussianBlur stdDeviation="1.0"/></filter></defs>
</svg></body></html>
